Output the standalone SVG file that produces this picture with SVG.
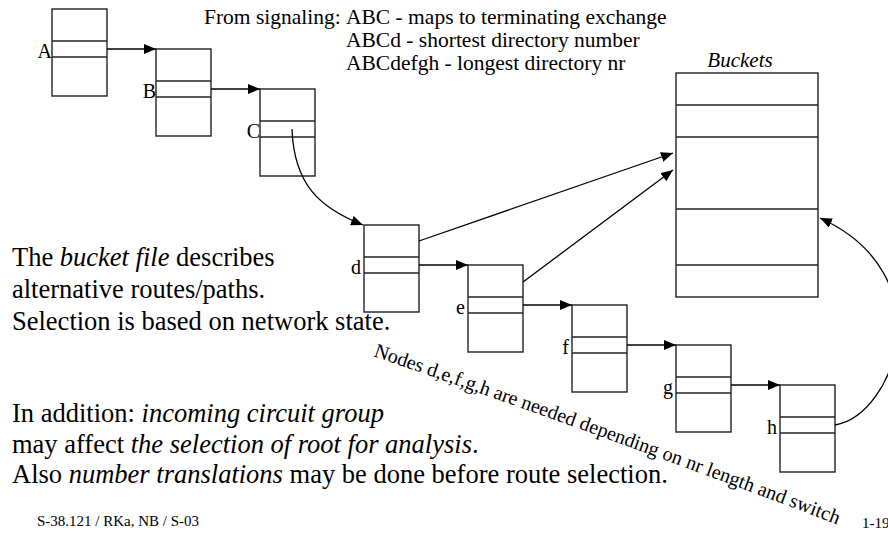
<svg xmlns="http://www.w3.org/2000/svg" width="888" height="533" viewBox="0 0 888 533">
<defs>
<marker id="ah" markerWidth="12" markerHeight="10" refX="12" refY="5" orient="auto" markerUnits="userSpaceOnUse"><path d="M0,0 L12,5 L0,10 Z" fill="#000"/></marker>
<path id="arc" d="M373,356 Q600,434 844,527" fill="none"/>
</defs>
<style>
.box{fill:#fff;stroke:#222;stroke-width:1.4}
.dv{stroke:#222;stroke-width:1.4}
.lbl{font-family:"Liberation Serif","Times New Roman",serif;font-size:20px;fill:#000;text-anchor:end}
.conn{fill:none;stroke:#000;stroke-width:1.3;marker-end:url(#ah)}
.t{font-family:"Liberation Serif","Times New Roman",serif;fill:#000}
.big{font-size:26.5px}
.top{font-size:21.5px}
.ft{font-size:15px}
</style>
<rect width="888" height="533" fill="#fff"/>
<g id="node-A"><rect class="box" x="52" y="9" width="55" height="87"/><line class="dv" x1="52" y1="41" x2="107" y2="41"/><line class="dv" x1="52" y1="57" x2="107" y2="57"/><text class="lbl" x="52" y="58">A</text></g>
<g id="node-B"><rect class="box" x="156" y="49" width="55" height="87"/><line class="dv" x1="156" y1="81" x2="211" y2="81"/><line class="dv" x1="156" y1="97" x2="211" y2="97"/><text class="lbl" x="156" y="98">B</text></g>
<g id="node-C"><rect class="box" x="260" y="89" width="55" height="87"/><line class="dv" x1="260" y1="121" x2="315" y2="121"/><line class="dv" x1="260" y1="137" x2="315" y2="137"/><text class="lbl" x="260" y="138">C</text></g>
<g id="node-d"><rect class="box" x="364" y="225" width="55" height="87"/><line class="dv" x1="364" y1="257" x2="419" y2="257"/><line class="dv" x1="364" y1="273" x2="419" y2="273"/><text class="lbl" x="361" y="274">d</text></g>
<g id="node-e"><rect class="box" x="468" y="265" width="55" height="87"/><line class="dv" x1="468" y1="297" x2="523" y2="297"/><line class="dv" x1="468" y1="313" x2="523" y2="313"/><text class="lbl" x="465" y="314">e</text></g>
<g id="node-f"><rect class="box" x="572" y="305" width="55" height="87"/><line class="dv" x1="572" y1="337" x2="627" y2="337"/><line class="dv" x1="572" y1="353" x2="627" y2="353"/><text class="lbl" x="569" y="354">f</text></g>
<g id="node-g"><rect class="box" x="676" y="345" width="55" height="87"/><line class="dv" x1="676" y1="377" x2="731" y2="377"/><line class="dv" x1="676" y1="393" x2="731" y2="393"/><text class="lbl" x="673" y="394">g</text></g>
<g id="node-h"><rect class="box" x="780" y="385" width="55" height="87"/><line class="dv" x1="780" y1="417" x2="835" y2="417"/><line class="dv" x1="780" y1="433" x2="835" y2="433"/><text class="lbl" x="777" y="434">h</text></g>
<g id="buckets"><rect class="box" x="676" y="73" width="142" height="224"/><line class="dv" x1="676" y1="105" x2="818" y2="105"/><line class="dv" x1="676" y1="137" x2="818" y2="137"/><line class="dv" x1="676" y1="209" x2="818" y2="209"/><line class="dv" x1="676" y1="265" x2="818" y2="265"/><text class="t" x="740" y="67" font-size="21" font-style="italic" text-anchor="middle">Buckets</text></g>
<g id="connectors">
<path class="conn" d="M107,49 H156"/>
<path class="conn" d="M211,89 H260"/>
<path class="conn" d="M419,265 H468"/>
<path class="conn" d="M523,305 H572"/>
<path class="conn" d="M627,345 H676"/>
<path class="conn" d="M731,385 H780"/>
<path class="conn" d="M292,129 C294,185 320,208 363,225"/>
<path class="conn" d="M419,241 L673,153"/>
<path class="conn" d="M523,282 L673,170"/>
<path class="conn" d="M835,425 C895,415 945,275 820,218"/>
</g>
<g id="texts">
<text class="t top" x="204" y="24">From signaling:</text>
<text class="t top" x="346" y="24">ABC - maps to terminating exchange</text>
<text class="t top" x="346" y="47">ABCd - shortest directory number</text>
<text class="t top" x="346" y="70">ABCdefgh - longest directory nr</text>
<text class="t big" x="12" y="266">The <tspan font-style="italic">bucket file</tspan> describes</text>
<text class="t big" x="12" y="298">alternative routes/paths.</text>
<text class="t big" x="12" y="330">Selection is based on network state.</text>
<text class="t big" x="12" y="422">In addition: <tspan font-style="italic">incoming circuit group</tspan></text>
<text class="t big" x="12" y="453">may affect <tspan font-style="italic">the selection of root for analysis</tspan>.</text>
<text class="t big" x="12" y="483">Also <tspan font-style="italic">number translations</tspan> may be done before route selection.</text>
<text class="t" font-size="20"><textPath href="#arc">Nodes d,e,f,g,h are needed depending on nr length and switch</textPath></text>
<text class="t ft" x="37" y="526">S-38.121 / RKa, NB / S-03</text>
<text class="t ft" x="862" y="528">1-19</text>
</g>
</svg>
